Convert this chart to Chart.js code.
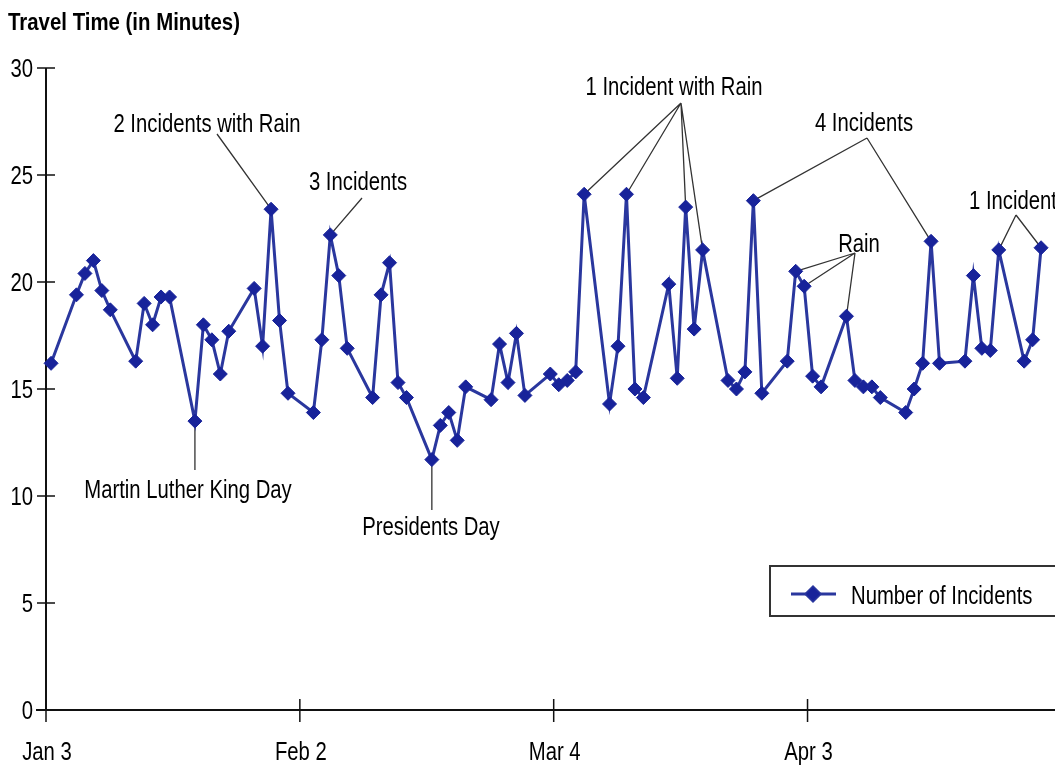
<!DOCTYPE html>
<html>
<head>
<meta charset="utf-8">
<script src="https://cdn.jsdelivr.net/npm/chart.js@4.4.1/dist/chart.umd.min.js"></script>
<style>
html,body{margin:0;padding:0;background:#fff;overflow:hidden}
#wrap{width:1055px;height:770px;position:relative}
</style>
</head>
<body>
<div id="wrap"><canvas id="c" width="1055" height="770"></canvas></div>
<script>
// ---- data (days counted from Jan 3, 2003; weekdays only) ----
const dayOffsets = [0, 3,4,5,6,7, 10,11,12,13,14, 17,18,19,20,21, 24,25,26,27,28,
  31,32,33,34,35, 38,39,40,41,42, 45,46,47,48,49, 52,53,54,55,56, 59,60,61,62,63,
  66,67,68,69,70, 73,74,75,76,77, 80,81,82,83,84, 87,88,89,90,91, 94,95,96,97,98,
  101,102,103,104,105, 108,109,110,111,112, 115,116,117];
const travelTimes = [16.2, 19.4,20.4,21.0,19.6,18.7, 16.3,19.0,18.0,19.3,19.3,
  13.5,18.0,17.3,15.7,17.7, 19.7,17.0,23.4,18.2,14.8, 13.9,17.3,22.2,20.3,16.9,
  14.6,19.4,20.9,15.3,14.6, 11.7,13.3,13.9,12.6,15.1, 14.5,17.1,15.3,17.6,14.7,
  15.7,15.2,15.4,15.8,24.1, 14.3,17.0,24.1,15.0,14.6, 19.9,15.5,23.5,17.8,21.5,
  15.4,15.0,15.8,23.8,14.8, 16.3,20.5,19.8,15.6,15.1, 18.4,15.4,15.1,15.1,14.6,
  13.9,15.0,16.2,21.9,16.2, 16.3,20.3,16.9,16.8,21.5, 16.3,17.3,21.6];
const yTickValues = [0,5,10,15,20,25,30];
const xTickDays = [0,30,60,90];
const xTickLabels = ['Jan 3','Feb 2','Mar 4','Apr 3'];
const chartTitle = 'Travel Time (in Minutes)';
const seriesName = 'Number of Incidents';
const calloutTexts = ['2 Incidents with Rain','3 Incidents','Martin Luther King Day','Presidents Day',
  '1 Incident with Rain','4 Incidents','Rain','1 Incident'];
const calloutTargetDays = [[26],[33],[17],[45],[63,68,75,77],[83,104],[88,89,94],[112,117]];

// ---- layout / style (not data) ----
const calloutLayout = [
  {tx:207, ty:132, align:'center', ax:217, ay:134},
  {tx:358, ty:190, align:'center', ax:362, ay:198},
  {tx:188, ty:498, align:'center', ax:null, ay:470},
  {tx:431, ty:535, align:'center', ax:null, ay:510},
  {tx:674, ty:95,  align:'center', ax:681, ay:103},
  {tx:864, ty:131, align:'center', ax:867, ay:138},
  {tx:859, ty:252, align:'center', ax:855, ay:253},
  {tx:969, ty:209, align:'left',   ax:1016, ay:215}
];
const slotOffset = 0.6;
const FONT_FAMILY = '"Liberation Sans", Arial, sans-serif';
const TXT_SIZE = 26, TXT_SX = 0.78;
const LINE_COLOR = '#2a379e', MARK_COLOR = '#18239a';

function drawText(ctx, s, x, y, align, font, sx) {
  ctx.save();
  ctx.font = font;
  const w = ctx.measureText(s).width * sx;
  const left = align === 'center' ? x - w / 2 : (align === 'right' ? x - w : x);
  ctx.translate(left, y);
  ctx.scale(sx, 1);
  ctx.textAlign = 'left';
  ctx.textBaseline = 'alphabetic';
  ctx.fillStyle = '#000';
  ctx.fillText(s, 0, 0);
  ctx.restore();
}

const points = dayOffsets.map((d, i) => ({x: d + slotOffset, y: travelTimes[i]}));

const decorPlugin = {
  id: 'decor',
  beforeDatasetsDraw(chart) {
    const ctx = chart.ctx, xs = chart.scales.x, ys = chart.scales.y;
    const x0 = xs.getPixelForValue(0), y0 = ys.getPixelForValue(0);
    ctx.save();
    // axes
    ctx.strokeStyle = '#111';
    ctx.lineWidth = 2;
    ctx.beginPath();
    ctx.moveTo(x0, ys.getPixelForValue(30));
    ctx.lineTo(x0, y0);
    ctx.moveTo(x0 - 10, y0);
    ctx.lineTo(chart.width, y0);
    ctx.stroke();
    ctx.lineWidth = 1.5;
    ctx.beginPath();
    yTickValues.forEach(v => {
      const py = ys.getPixelForValue(v);
      ctx.moveTo(x0 - 9, py); ctx.lineTo(x0 + 9, py);
    });
    xTickDays.forEach(d => {
      const px = xs.getPixelForValue(d);
      ctx.moveTo(px, y0 - 11); ctx.lineTo(px, y0 + 12);
    });
    ctx.stroke();
    // callout lines
    ctx.strokeStyle = '#333';
    ctx.lineWidth = 1.3;
    ctx.beginPath();
    calloutTargetDays.forEach((targets, k) => {
      const L = calloutLayout[k];
      targets.forEach(d => {
        const i = dayOffsets.indexOf(d);
        const px = xs.getPixelForValue(d + slotOffset);
        const py = ys.getPixelForValue(travelTimes[i]);
        const ax = L.ax === null ? px : L.ax;
        ctx.moveTo(ax, L.ay); ctx.lineTo(px, py);
      });
    });
    ctx.stroke();
    ctx.restore();
  },
  afterDraw(chart) {
    const ctx = chart.ctx, xs = chart.scales.x, ys = chart.scales.y;
    const font = TXT_SIZE + 'px ' + FONT_FAMILY;
    const x0 = xs.getPixelForValue(0);
    // title
    drawText(ctx, chartTitle, 8, 30, 'left', 'bold 24px ' + FONT_FAMILY, 0.85);
    // y tick labels
    yTickValues.forEach(v => {
      drawText(ctx, String(v), x0 - 13, ys.getPixelForValue(v) + 9, 'right', font, TXT_SX);
    });
    // x tick labels
    xTickDays.forEach((d, i) => {
      drawText(ctx, xTickLabels[i], xs.getPixelForValue(d) + 1, 760, 'center', font, TXT_SX);
    });
    // callout texts
    calloutTexts.forEach((t, k) => {
      const L = calloutLayout[k];
      drawText(ctx, t, L.tx, L.ty, L.align, font, TXT_SX);
    });
    // legend
    ctx.save();
    ctx.fillStyle = '#fff';
    ctx.fillRect(770, 566, 300, 50);
    ctx.strokeStyle = '#333';
    ctx.lineWidth = 2;
    ctx.strokeRect(770, 566, 300, 50);
    const ds = chart.data.datasets[0];
    ctx.strokeStyle = ds.borderColor;
    ctx.lineWidth = ds.borderWidth;
    ctx.beginPath(); ctx.moveTo(791, 594); ctx.lineTo(836, 594); ctx.stroke();
    Chart.helpers.drawPoint(ctx, {pointStyle: 'rectRot', radius: ds.pointRadius, borderWidth: 1, rotation: 0}, 813, 594);
    ctx.fillStyle = ds.pointBackgroundColor;
    ctx.fill();
    ctx.restore();
    drawText(ctx, seriesName, 851, 604, 'left', font, TXT_SX);
  }
};

new Chart(document.getElementById('c'), {
  type: 'line',
  data: {
    datasets: [{
      label: seriesName,
      data: points,
      borderColor: LINE_COLOR,
      borderWidth: 3,
      pointStyle: 'rectRot',
      pointRadius: 7,
      pointBackgroundColor: MARK_COLOR,
      pointBorderColor: MARK_COLOR,
      pointBorderWidth: 1,
      tension: 0,
      clip: false
    }]
  },
  options: {
    responsive: false,
    animation: false,
    devicePixelRatio: 1,
    layout: {padding: {left: 46, top: 68, right: 0, bottom: 60}},
    plugins: {legend: {display: false}, tooltip: {enabled: false}, title: {display: false}},
    scales: {
      x: {type: 'linear', min: 0, max: 118.3, display: false},
      y: {type: 'linear', min: 0, max: 30, display: false}
    }
  },
  plugins: [decorPlugin]
});
</script>
</body>
</html>
